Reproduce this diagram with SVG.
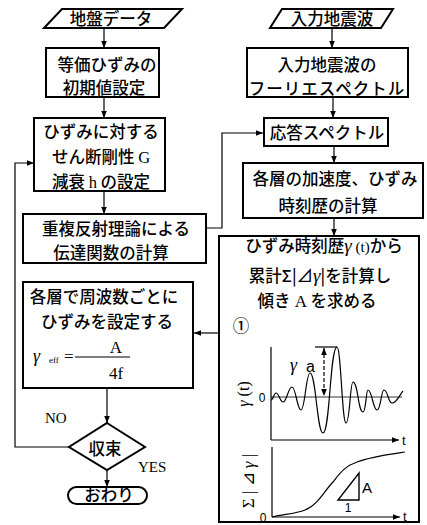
<svg xmlns="http://www.w3.org/2000/svg" width="427" height="525" viewBox="0 0 427 525">
<defs>
<marker id="ah" viewBox="0 0 10 10" refX="10" refY="5" markerWidth="7" markerHeight="7" orient="auto-start-reverse" markerUnits="userSpaceOnUse">
<path d="M0,1 L10,5 L0,9 Z" fill="#000"/>
</marker>
<style>
.box{fill:#fff;stroke:#000;stroke-width:2}
.jp{font-family:"Noto Sans CJK JP","Noto Sans",sans-serif;font-size:16.5px;font-weight:500;fill:#000;text-anchor:middle}
.ser{font-family:"Liberation Serif",serif;fill:#000}
.san{font-family:"Liberation Sans",sans-serif;fill:#000}
.con{fill:none;stroke:#000;stroke-width:1.2}
.thin{fill:none;stroke:#000;stroke-width:1.2}
</style>
</defs>
<rect width="427" height="525" fill="#fff"/>

<g id="connectors">
<line class="con" x1="104" y1="28" x2="104" y2="48" marker-end="url(#ah)"/>
<line class="con" x1="104" y1="97" x2="104" y2="118" marker-end="url(#ah)"/>
<line class="con" x1="104" y1="191" x2="104" y2="214" marker-end="url(#ah)"/>
<line class="con" x1="332" y1="28" x2="332" y2="48" marker-end="url(#ah)"/>
<line class="con" x1="333" y1="97" x2="333" y2="118" marker-end="url(#ah)"/>
<line class="con" x1="334" y1="146" x2="334" y2="163" marker-end="url(#ah)"/>
<line class="con" x1="334" y1="218" x2="334" y2="236" marker-end="url(#ah)"/>
<polyline class="con" points="206,228 222,228 222,133 263,133" marker-end="url(#ah)"/>
<line class="con" x1="219" y1="333" x2="194" y2="333" marker-end="url(#ah)"/>
<line class="con" x1="107" y1="388" x2="107" y2="423" marker-end="url(#ah)"/>
<line class="con" x1="107" y1="470" x2="107" y2="487" marker-end="url(#ah)"/>
<polyline class="con" points="73,447 15,447 15,163 34,163" marker-end="url(#ah)"/>
<text class="ser" x="45" y="423" font-size="15">NO</text>
<text class="ser" x="138" y="472" font-size="15">YES</text>
</g>

<g id="n-ground">
<polygon class="box" points="62,9 182,9 164,28 44,28"/>
<text class="jp" x="111" y="25" font-weight="bold">地盤データ</text>
</g>
<g id="n-init">
<rect class="box" x="46" y="48" width="113" height="49"/>
<text class="jp" x="107" y="71">等価ひずみの</text>
<text class="jp" x="104" y="94">初期値設定</text>
</g>
<g id="n-gh">
<rect class="box" x="34" y="118" width="131" height="73"/>
<text class="jp" x="101" y="138">ひずみに対する</text>
<text class="jp" x="101" y="163">せん断剛性 <tspan class="ser">G</tspan></text>
<text class="jp" x="101" y="188">減衰 <tspan class="ser">h</tspan> の設定</text>
</g>
<g id="n-transfer">
<rect class="box" x="23" y="214" width="183" height="49"/>
<text class="jp" x="116" y="235">重複反射理論による</text>
<text class="jp" x="111" y="259">伝達関数の計算</text>
</g>
<g id="n-strain">
<rect class="box" x="23" y="282" width="170" height="106"/>
<text class="jp" x="104" y="303">各層で周波数ごとに</text>
<text class="jp" x="107" y="328">ひずみを設定する</text>
<text class="ser" x="33" y="362" font-size="18" font-style="italic">γ</text>
<text class="ser" x="49" y="363" font-size="9">eff</text>
<text class="ser" x="64" y="362" font-size="17">=</text>
<text class="ser" x="116" y="353" font-size="17" text-anchor="middle">A</text>
<line x1="75" y1="357" x2="130" y2="357" stroke="#000" stroke-width="1.2"/>
<text class="ser" x="116" y="379" font-size="17" text-anchor="middle">4f</text>
</g>
<g id="n-conv">
<polygon class="box" points="107,423 145,447 107,470 69,447"/>
<text class="jp" x="105" y="455">収束</text>
</g>
<g id="n-end">
<rect class="box" x="68" y="487" width="79" height="17" rx="8.5"/>
<text class="jp" x="109" y="501">おわり</text>
</g>

<g id="n-input">
<polygon class="box" points="282,9 393,9 381,28 270,28"/>
<text class="jp" x="332" y="25" font-weight="bold">入力地震波</text>
</g>
<g id="n-fourier">
<rect class="box" x="247" y="48" width="161" height="49"/>
<text class="jp" x="327" y="71">入力地震波の</text>
<text class="jp" x="327" y="95" letter-spacing="1">フーリエスペクトル</text>
</g>
<g id="n-resp">
<rect class="box" x="264" y="118" width="124" height="28"/>
<text class="jp" x="327" y="139">応答スペクトル</text>
</g>
<g id="n-accel">
<rect class="box" x="243" y="163" width="180" height="55"/>
<text class="jp" x="335" y="185">各層の加速度、ひずみ</text>
<text class="jp" x="328" y="212">時刻歴の計算</text>
</g>
<g id="n-slope">
<rect class="box" x="219" y="236" width="200" height="286"/>
<text class="jp" x="324" y="252">ひずみ時刻歴<tspan class="ser" font-style="italic" font-size="19">γ</tspan><tspan class="ser" font-size="15"> (t)</tspan>から</text>
<text class="jp" x="320" y="282">累計Σ|⊿<tspan class="ser" font-style="italic" font-size="19">γ</tspan>|を計算し</text>
<text class="jp" x="317" y="307">傾き<tspan class="ser" font-size="17"> A </tspan>を求める</text>
<text class="jp" x="241" y="332">①</text>
<!-- upper plot -->
<line class="thin" x1="271" y1="347" x2="271" y2="440"/>
<line class="thin" x1="271" y1="440" x2="399" y2="440" marker-end="url(#ah)"/>
<text class="san" x="402" y="445" font-size="13">t</text>
<line x1="271" y1="397" x2="402" y2="397" stroke="#000" stroke-width="0.8"/>
<text class="san" x="262" y="402" font-size="12" text-anchor="middle">0</text>
<text class="ser" transform="translate(249,394) rotate(-90)" font-size="16" text-anchor="middle"><tspan font-style="italic">γ</tspan> (t)</text>
<path class="thin" stroke-width="1.6" d="M271,400 C273,400 274,393 276,393 C279,393 280,402 283,402 C287,402 288,387 292,387 C296,387 297,410 301,410 C305,410 306,373 310,373 C316,373 317,433 323,433 C330,433 330,347 337,347 C341,347 342,423 346,423 C350,423 350,382 353,382 C358,382 358,412 363,412 C366,412 366,390 368,390 C372,390 373,410 377,410 C381,410 381,390 384,390 C388,390 388,403 392,403 C397,403 400,394 403,391"/>
<line x1="315" y1="347" x2="337" y2="347" stroke="#000" stroke-width="1.2"/>
<line x1="324" y1="348" x2="324" y2="396" stroke="#000" stroke-width="1.2" stroke-dasharray="4,2" marker-start="url(#ah)" marker-end="url(#ah)"/>
<text class="ser" x="290" y="371" font-size="18" font-style="italic">γ</text>
<text class="san" x="306" y="372" font-size="16">a</text>
<!-- lower plot -->
<line class="thin" x1="272" y1="447" x2="272" y2="517"/>
<line class="thin" x1="272" y1="517" x2="400" y2="517" marker-end="url(#ah)"/>
<text class="san" x="403" y="521" font-size="13">t</text>
<text class="san" x="263" y="522" font-size="12" text-anchor="middle">0</text>
<text class="ser" transform="translate(254,481) rotate(-90)" font-size="17" text-anchor="middle">Σ | ⊿ <tspan font-style="italic">γ</tspan> |</text>
<path class="thin" stroke-width="1.6" d="M272,517 C285,514 295,514 305,510 C318,505 325,490 333,482 C340,473 345,466 357,462 C370,457 385,455 405,452"/>
<polygon points="338,500 359,500 359,473" fill="none" stroke="#000" stroke-width="1.4"/>
<text class="san" x="362" y="493" font-size="15">A</text>
<text class="san" x="348" y="512" font-size="12" text-anchor="middle">1</text>
</g>
</svg>
